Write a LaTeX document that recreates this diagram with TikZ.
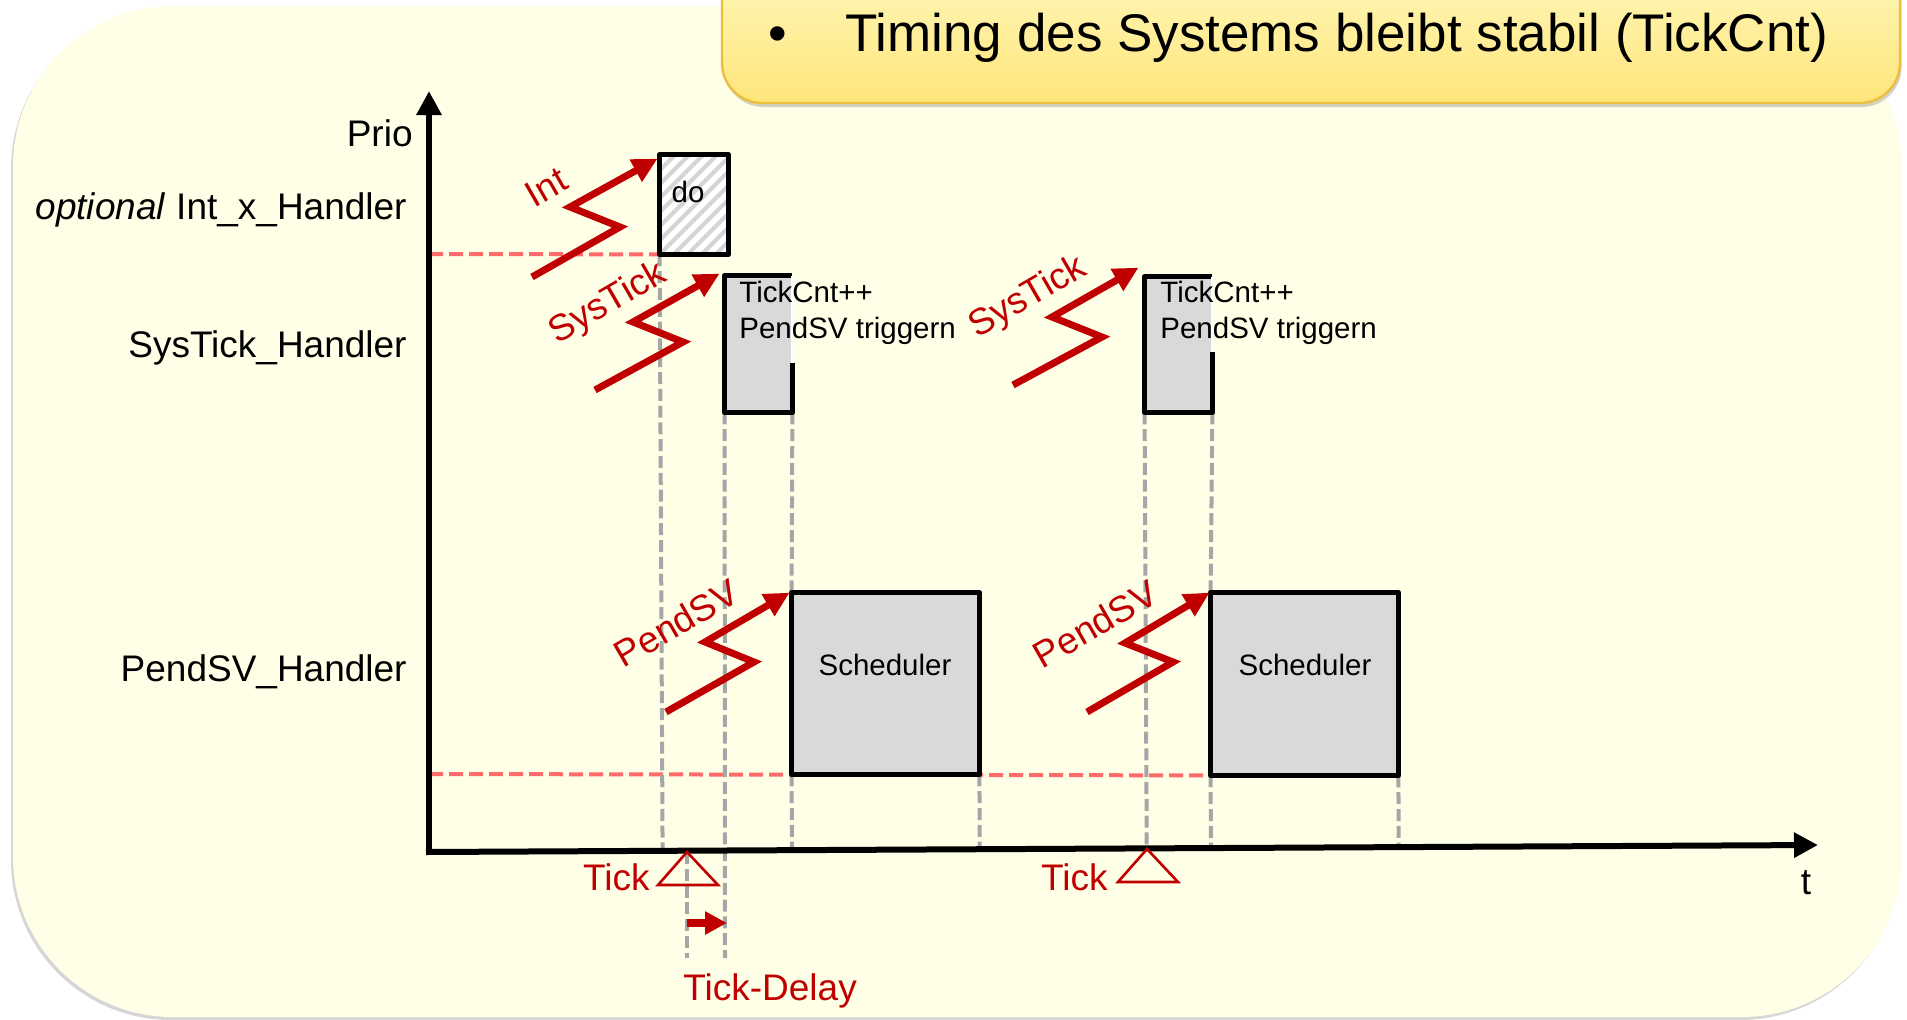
\documentclass[tikz,border=0pt]{standalone}
\usepackage{fontspec}
\setmainfont{Liberation Sans}
\usetikzlibrary{arrows.meta,shadows,calc}

\definecolor{bgfill}{HTML}{FFFFE8}
\definecolor{noteTop}{HTML}{FFF9BE}
\definecolor{noteBot}{HTML}{FFE57A}
\definecolor{noteEdge}{HTML}{EBBE3C}
\definecolor{irq}{HTML}{C00000}
\definecolor{levelred}{HTML}{FF6B6B}
\definecolor{guidegray}{HTML}{A6A6A6}
\definecolor{busy}{HTML}{D9D9D9}
\definecolor{hatchgray}{HTML}{D4D4D4}

\tikzset{
  axisline/.style={line width=3pt, -{Triangle[length=12pt,width=12pt]}},
  guide/.style={draw=guidegray, line width=2pt, dash pattern=on 6pt off 2.4pt},
  level/.style={draw=levelred, line width=2pt, dash pattern=on 7pt off 3pt},
  bolt/.style={draw=irq, line width=3.5pt, -{Triangle[length=12.5pt,width=12pt]}},
  busybox/.style={fill=busy, inner sep=0pt},
  boxline/.style={draw=black, line width=2.4pt, line join=round},
  handler/.style={font=\fontsize{18.5}{22}\selectfont, anchor=base east, inner sep=0pt},
  irqlabel/.style={text=irq, font=\fontsize{18.5}{22}\selectfont, rotate=30, inner sep=0pt},
  ticklabel/.style={text=irq, font=\fontsize{18.5}{22}\selectfont, inner sep=0pt},
  boxtext/.style={font=\fontsize{14.75}{17}\selectfont, inner sep=0pt},
  tickmark/.style={draw=irq, line width=1.3pt, line join=miter},
  delayarrow/.style={draw=irq, line width=4pt, -{Triangle[length=11pt,width=11pt]}},
}

\begin{document}
\begin{tikzpicture}[x=0.5pt,y=-0.5pt]
\useasboundingbox (0,0) rectangle (1907,1019);

% slide panel
\fill[black!16, rounded corners=80pt] (11,9) rectangle (1900,1020);
\fill[bgfill, rounded corners=80pt] (13,6) rectangle (1902,1017);

% note banner at the top
\path[draw=noteEdge, line width=1.2pt, top color=noteTop, bottom color=noteBot,
      rounded corners=20pt,
      drop shadow={shadow xshift=0.8pt, shadow yshift=-2pt, opacity=0.35}]
  (722,-40) rectangle (1900,103);
\node[anchor=base west, inner sep=0pt, font=\fontsize{26.5}{30}\selectfont]
  (bul) at (768,51) {\textbullet};
\node[anchor=base west, inner sep=0pt, font=\fontsize{26.5}{30}\selectfont]
  (note) at (845,51) {Timing des Systems bleibt stabil (TickCnt)};

% axes end points
\coordinate (o) at (429,852);
\coordinate (ytop) at (429,91);
\coordinate (xend) at (1818,845);

% execution blocks
\node[inner sep=0pt, fill=white, minimum width=34pt, minimum height=49.5pt] (do) at (694,204.5) {};
\node[busybox, minimum width=33.5pt, minimum height=68pt] (st1) at (758.5,344) {};
\node[busybox, minimum width=33.5pt, minimum height=67.5pt] (st2) at (1178.5,344.5) {};
\node[busybox, minimum width=93.5pt, minimum height=90.5pt] (sch1) at (885.5,683.5) {};
\node[busybox, minimum width=93.5pt, minimum height=91pt] (sch2) at (1304.5,684) {};

% hatching of the optional handler
\begin{scope}
  \clip (do.south west) rectangle (do.north east);
  \foreach \k in {-7,...,12} {
    \draw[hatchgray, line width=2pt] ($(do.south west)+(\k*14,0)$) -- ++(99,-99);
  }
\end{scope}

% priority levels
\coordinate (lv1) at (429,254);
\coordinate (lv2) at (429,774);
\draw[level] (lv1) -- (do.south west);
\draw[level] (lv2) -- (sch2.south west);

% time guides
\coordinate (tk1) at (687,852);
\coordinate (tk2) at (1147,849);
\coordinate (d0) at (687,958);
\coordinate (d1) at (725,958);
\draw[guide] (do.south west) -- ($(o)!(do.south west)!(xend)$);
\draw[guide] (st1.south west) -- (d1);
\draw[guide] (tk1) -- (d0);
\draw[guide] (st1.south east) -- (sch1.north west);
\draw[guide] (sch1.south west) -- ($(o)!(sch1.south west)!(xend)$);
\draw[guide] (sch1.south east) -- ($(o)!(sch1.south east)!(xend)$);
\draw[guide] (st2.south west) -- ($(o)!(st2.south west)!(xend)$);
\draw[guide] (st2.south east) -- (sch2.north west);
\draw[guide] (sch2.south west) -- ($(o)!(sch2.south west)!(xend)$);
\draw[guide] (sch2.south east) -- ($(o)!(sch2.south east)!(xend)$);

% axes
\draw[axisline] (o) -- (ytop);
\draw[axisline] ([xshift=-1.5pt]o) -- (xend);
\node[handler] (prio) at (413,146) {Prio};
\node[anchor=base, inner sep=0pt, font=\fontsize{18.5}{22}\selectfont] (tlab) at (1806,894) {t};

% handler names
\node[handler] (hx) at (407,219) {\textit{optional} Int\_x\_Handler};
\node[handler] (hst) at (407,357) {SysTick\_Handler};
\node[handler] (hsv) at (407,681) {PendSV\_Handler};

% block outlines
\draw[boxline] (do.south west) rectangle (do.north east);
\draw[boxline] ($(st1.north east)+(0,87)$) -- (st1.south east) -- (st1.south west)
  -- (st1.north west) -- (st1.north east);
\draw[white, line width=1pt] (st1.north east) -- ++(0,87);
\draw[boxline] ($(st2.north east)+(0,75)$) -- (st2.south east) -- (st2.south west)
  -- (st2.north west) -- (st2.north east);
\draw[white, line width=1pt] (st2.north east) -- ++(0,75);
\draw[boxline] (sch1.south west) rectangle (sch1.north east);
\draw[boxline] (sch2.south west) rectangle (sch2.north east);

% block texts
\node[boxtext, anchor=base] (dotext) at (688,202) {do};
\node[boxtext, anchor=base west] (st1a) at (739,302) {TickCnt++};
\node[boxtext, anchor=base west] (st1b) at (739,338) {PendSV triggern};
\node[boxtext, anchor=base west] (st2a) at (1160,302) {TickCnt++};
\node[boxtext, anchor=base west] (st2b) at (1160,338) {PendSV triggern};
\node[boxtext, anchor=base] (sch1t) at (885,675) {Scheduler};
\node[boxtext, anchor=base] (sch2t) at (1305,675) {Scheduler};

% interrupt requests
\coordinate (i0) at (532,277); \coordinate (i1) at (620,227); \coordinate (i2) at (570,207);
\draw[bolt] (i0) -- (i1) -- (i2) -- ([shift={(-2,4)}]do.north west);
\node[irqlabel] (intl) at (546,187) {Int};

\coordinate (s0) at (595,390); \coordinate (s1) at (683,342); \coordinate (s2) at (633,322);
\draw[bolt] (s0) -- (s1) -- (s2) -- ([shift={(-5,-2)}]st1.north west);
\node[irqlabel] (stl1) at (608,304) {SysTick};

\coordinate (u0) at (1013,385); \coordinate (u1) at (1102,337); \coordinate (u2) at (1052,317);
\draw[bolt] (u0) -- (u1) -- (u2) -- ([shift={(-6,-9)}]st2.north west);
\node[irqlabel] (stl2) at (1028,298) {SysTick};

\coordinate (p0) at (666,712); \coordinate (p1) at (754,662); \coordinate (p2) at (705,642);
\draw[bolt] (p0) -- (p1) -- (p2) -- ([shift={(-2,0)}]sch1.north west);
\node[irqlabel] (svl1) at (676,623) {PendSV};

\coordinate (q0) at (1087,712); \coordinate (q1) at (1173,662); \coordinate (q2) at (1125,643);
\draw[bolt] (q0) -- (q1) -- (q2) -- ([shift={(-1,0)}]sch2.north west);
\node[irqlabel] (svl2) at (1095,624) {PendSV};

% tick events
\draw[tickmark] (tk1) -- ++(-29,33) -- ++(60,0) -- cycle;
\draw[tickmark] (tk2) -- ++(-29,33) -- ++(60,0) -- cycle;
\node[ticklabel, anchor=base east] (tick1) at (650,890) {Tick};
\node[ticklabel, anchor=base east] (tick2) at (1108,890) {Tick};

% tick delay
\coordinate (dl0) at (687,923);
\coordinate (dl1) at (727,923);
\draw[delayarrow] (dl0) -- (dl1);
\node[ticklabel, anchor=base west] (delay) at (683,1000) {Tick-Delay};
\end{tikzpicture}
\end{document}
